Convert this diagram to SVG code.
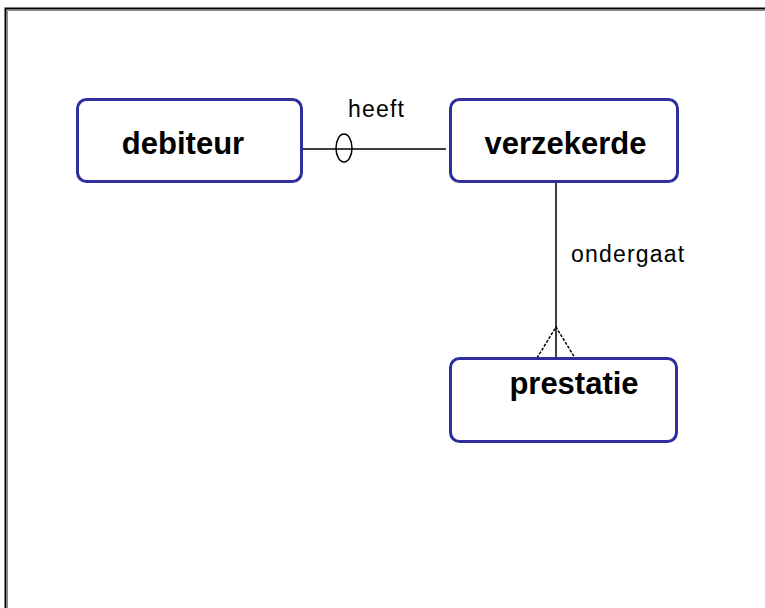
<svg xmlns="http://www.w3.org/2000/svg" width="765" height="608" viewBox="0 0 765 608">
<style>
.frame-dark{stroke:#000;stroke-width:2;fill:none}
.frame-light{stroke:#8a8a8a;stroke-width:1;fill:none}
.box{fill:#fff;stroke:#2e2e9c;stroke-width:3}
.name{font-family:"Liberation Sans",Arial,sans-serif;font-weight:bold;font-size:31px;fill:#000;text-anchor:middle}
.lbl{font-family:"Liberation Sans",Arial,sans-serif;font-size:23px;fill:#000;letter-spacing:1.2px}
.conn{stroke:#000;stroke-width:1.5;fill:none}
</style>
<rect width="765" height="608" fill="#fff"/>
<path class="frame-dark" d="M5.5,608 V8.5 H765"/>
<path class="frame-light" d="M7.5,608 V10.5 H765"/>
<g id="connectors">
<line class="conn" x1="302" y1="149" x2="446" y2="149"/>
<ellipse class="conn" cx="344" cy="148" rx="8" ry="14"/>
<line class="conn" x1="556" y1="182" x2="556" y2="358"/>
<path class="conn" d="M537,358 L556,327 L575,358" stroke-dasharray="3,1.5" stroke-width="1.2"/>
<text class="lbl" x="348" y="117">heeft</text>
<text class="lbl" x="571" y="262">ondergaat</text>
</g>
<g id="debiteur">
<rect class="box" x="77.5" y="99.5" width="224" height="82" rx="9"/>
<text class="name" x="183" y="154">debiteur</text>
</g>
<g id="verzekerde">
<rect class="box" x="450.5" y="99.5" width="227" height="82" rx="9"/>
<text class="name" x="565.5" y="154">verzekerde</text>
</g>
<g id="prestatie">
<rect class="box" x="450.5" y="358.5" width="226" height="83" rx="9"/>
<text class="name" x="574" y="394">prestatie</text>
</g>
</svg>
